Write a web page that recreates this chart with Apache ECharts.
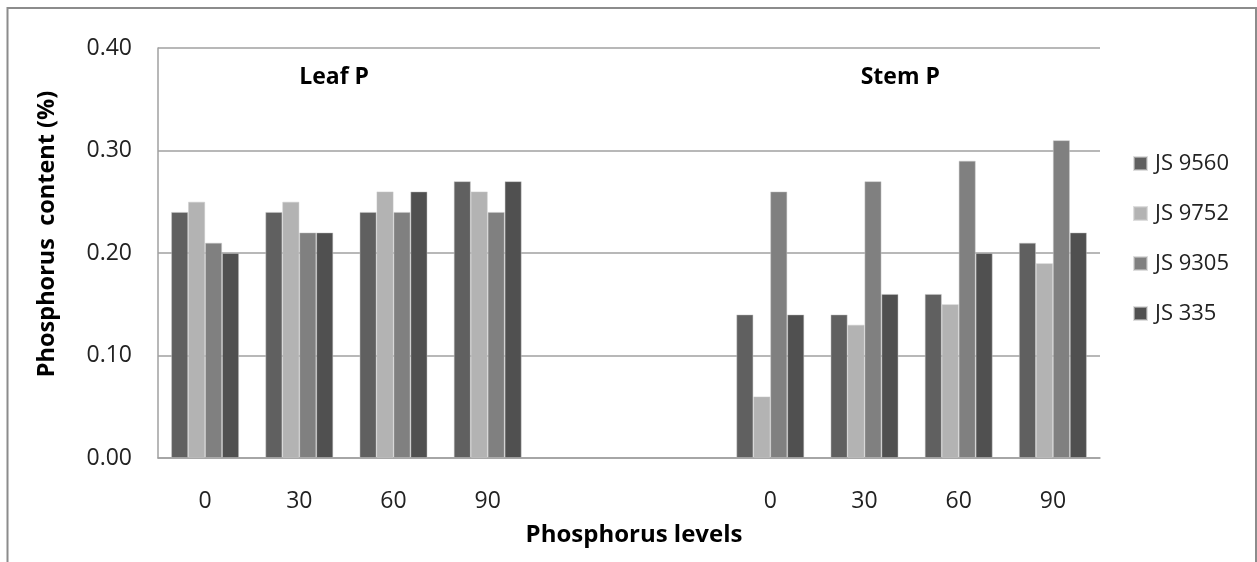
<!DOCTYPE html>
<html>
<head>
<meta charset="utf-8">
<script src="https://cdn.jsdelivr.net/npm/echarts@6/dist/echarts.min.js"></script>
<style>
html,body{margin:0;padding:0;background:#fff;}
#c{width:1257px;height:562px;}
</style>
</head>
<body>
<div id="c"></div>
<script>
const categories = ['0','30','60','90','','','0','30','60','90'];
const seriesNames = ['JS 9560','JS 9752','JS 9305','JS 335'];
const js9560 = [0.24,0.24,0.24,0.27,null,null,0.14,0.14,0.16,0.21];
const js9752 = [0.25,0.25,0.26,0.26,null,null,0.06,0.13,0.15,0.19];
const js9305 = [0.21,0.22,0.24,0.24,null,null,0.26,0.27,0.29,0.31];
const js335  = [0.20,0.22,0.26,0.27,null,null,0.14,0.16,0.20,0.22];
const yTicks = [0, 0.1, 0.2, 0.3, 0.4];
const groupLabels = [{text:'Leaf P', cat:1.37}, {text:'Stem P', cat:7.38}];
const groupLabelValue = 0.3717;

const colors = ['#606060','#b3b3b3','#808080','#505050'];
const values = [js9560, js9752, js9305, js335];
const font = '"Open Sans", "Liberation Sans", sans-serif';

const chart = echarts.init(document.getElementById('c'), null, {renderer:'canvas'});
const borderRect = {
  type:'rect', id:'frame', shape:{x:7.5, y:8, width:1248.5, height:600},
  style:{fill:'none', stroke:'#8c8c8c', lineWidth:2}, silent:true, z:-1
};
const option = {
  animation:false,
  backgroundColor:'#fff',
  color: colors,
  grid:{left:158, right:157, top:48, bottom:104, containLabel:false},
  legend:{
    orient:'vertical', left:1128, top:147, itemGap:27,
    itemWidth:13, itemHeight:13, icon:'rect',
    textStyle:{fontFamily:font, fontSize:22, lineHeight:23, color:'#222', padding:[0,0,0,3]},
    data: seriesNames
  },
  xAxis:{
    type:'category', data:categories,
    name:'Phosphorus levels', nameLocation:'middle', nameGap:65,
    nameTextStyle:{fontFamily:font, fontSize:24, fontWeight:'bold', color:'#000', padding:[0,0,0,10]},
    axisLine:{lineStyle:{color:'#a0a0a0', width:1.5}},
    axisTick:{show:false},
    axisLabel:{fontFamily:font, fontSize:23, color:'#222', margin:32, interval:0}
  },
  yAxis:{
    type:'value', min:0, max:0.4, interval:0.1,
    name:'Phosphorus  content (%)', nameLocation:'middle', nameGap:99,
    nameTextStyle:{fontFamily:font, fontSize:23.5, fontWeight:'bold', color:'#000', padding:[0,0,0,38]},
    axisLine:{show:true, lineStyle:{color:'#a0a0a0', width:1.5}},
    axisTick:{show:false},
    splitLine:{lineStyle:{color:'#a0a0a0', width:1.5}},
    axisLabel:{fontFamily:font, fontSize:23, color:'#222', margin:26,
      formatter: v => yTicks.includes(Math.round(v*10)/10) ? v.toFixed(2) : ''}
  },
  series: seriesNames.map((n,i)=>({
    name:n, type:'bar', data:values[i],
    barGap:'0%', barCategoryGap:'28%',
    itemStyle:{color:colors[i], borderColor:'rgba(200,200,200,0.6)', borderWidth:0.8}
  })),
  graphic:[borderRect]
};
chart.setOption(option);

// Place group titles through the chart's own scales
const texts = groupLabels.map((g, k) => {
  const i0 = Math.floor(g.cat), f = g.cat - i0;
  const p0 = chart.convertToPixel({gridIndex:0}, [i0, groupLabelValue]);
  const p1 = chart.convertToPixel({gridIndex:0}, [i0 + 1, groupLabelValue]);
  return {
    type:'text', id:'grp'+k,
    x: p0[0] + f * (p1[0] - p0[0]), y: p0[1],
    style:{text:g.text, fontFamily:font, fontSize:23, fontWeight:'bold', fill:'#000',
      textAlign:'center', textVerticalAlign:'middle'},
    silent:true
  };
});
chart.setOption({graphic:[borderRect].concat(texts)});
</script>
</body>
</html>
